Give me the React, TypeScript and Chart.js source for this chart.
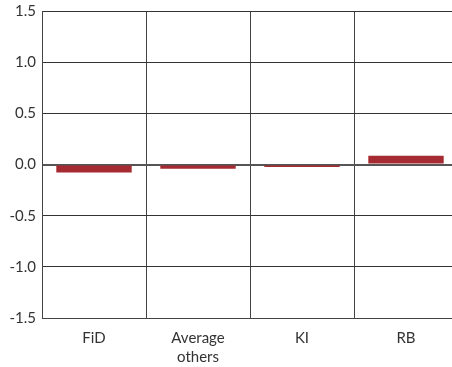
import React, { useEffect, useRef } from "react";
import { Chart, registerables } from "chart.js";

Chart.register(...registerables);

const categories: (string | string[])[] = ["FiD", ["Average", "others"], "KI", "RB"];
const values: number[] = [-0.078, -0.042, -0.024, 0.085];
const yTicks: number[] = [-1.5, -1.0, -0.5, 0.0, 0.5, 1.0, 1.5];

export default function App() {
  const ref = useRef<HTMLCanvasElement | null>(null);
  useEffect(() => {
    if (!ref.current) return;
    const chart = new Chart(ref.current, {
      type: "bar",
      data: {
        labels: categories as any,
        datasets: [
          {
            data: values,
            backgroundColor: "#A52A31",
            borderWidth: 0,
            barPercentage: 0.725,
            categoryPercentage: 1,
          },
        ],
      },
      options: {
        animation: false,
        responsive: false,
        maintainAspectRatio: false,
        layout: { padding: { top: 0, left: 0, right: 0, bottom: 0 } },
        plugins: { legend: { display: false }, tooltip: { enabled: false } },
        scales: {
          x: {
            grid: {
              offset: true,
              color: "#444",
              lineWidth: 1,
              drawTicks: false,
            },
            border: { display: true, color: "#444" },
            ticks: {
              color: "#333",
              font: { family: "Lato", size: 15, lineHeight: 1.3 },
              padding: 10,
              maxRotation: 0,
            },
            afterFit: (s: any) => {
              s.height = 49;
            },
          },
          y: {
            min: -1.5,
            max: 1.5,
            afterBuildTicks: (s: any) => {
              s.ticks = yTicks.map((v) => ({ value: v }));
            },
            grid: {
              color: (c: any) => (c.tick && c.tick.value === 0 ? "#555" : "#333"),
              lineWidth: (c: any) => (c.tick && c.tick.value === 0 ? 2 : 1),
              drawTicks: false,
            },
            border: { display: true, color: "#444" },
            ticks: {
              color: "#333",
              font: { family: "Lato", size: 15 },
              padding: 6,
              callback: (v: any) => Number(v).toFixed(1),
            },
            afterFit: (s: any) => {
              s.width = 42;
            },
          },
        },
      },
    });
    return () => chart.destroy();
  }, []);
  return (
    <div style={{ position: "fixed", left: 0, top: -4, width: 458, height: 371, background: "#fff" }}>
      <canvas ref={ref} width={458} height={371} style={{ display: "block" }} />
    </div>
  );
}
